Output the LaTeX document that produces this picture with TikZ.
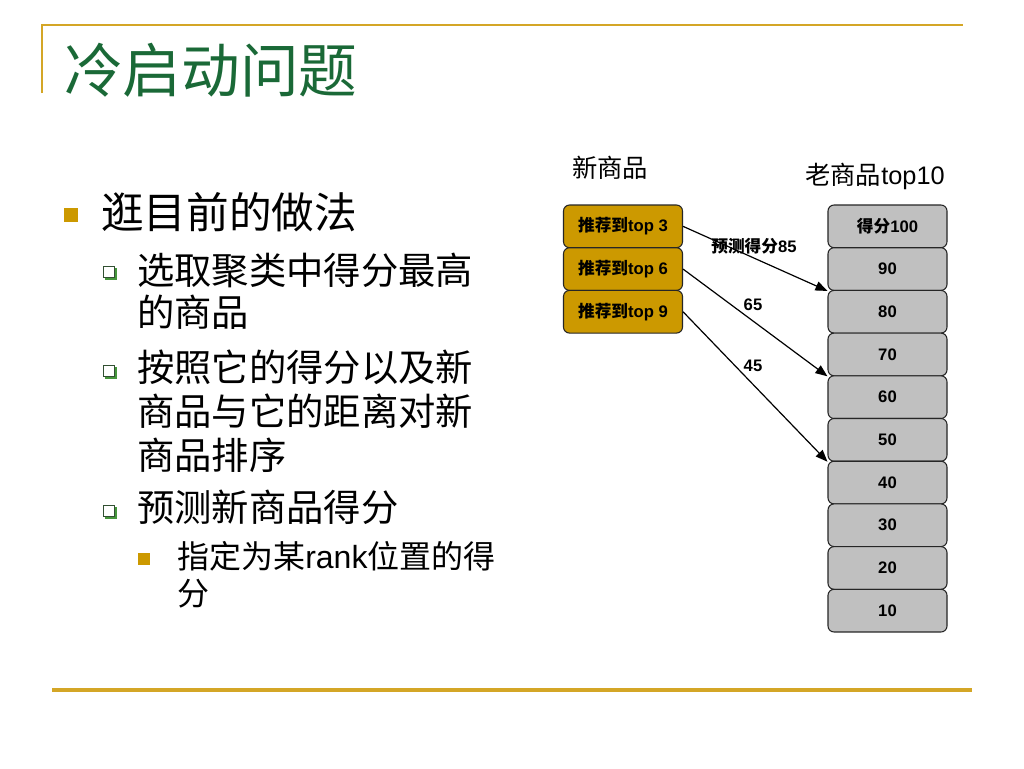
\documentclass[tikz,border=0pt]{standalone}
\usepackage{fontspec}
\setmainfont{Noto Sans CJK SC}
\newfontfamily\arial{Liberation Sans}
\usetikzlibrary{arrows.meta}
\newcommand\ltn[1]{{\arial #1}}
\definecolor{titlegreen}{RGB}{26,105,55}
\definecolor{rulegold}{RGB}{212,166,38}
\definecolor{bulletgold}{RGB}{204,153,0}
\definecolor{boxgold}{RGB}{204,153,0}
\definecolor{boxgray}{RGB}{192,192,192}
\definecolor{shadowgreen}{RGB}{70,150,60}
\definecolor{edgegreen}{RGB}{50,80,50}
\tikzset{
  oldbox/.style={draw=black!85, fill=boxgray, rounded corners=4.5pt, line width=0.8pt,
    minimum width=89.25pt, minimum height=32pt, inner sep=0pt, font=\fontsize{12.5}{15}\selectfont\bfseries},
  newbox/.style={oldbox, fill=boxgold},
  lvlone/.style={anchor=base west, inner sep=0pt, font=\fontsize{32}{38}\selectfont},
  lvltwo/.style={anchor=base west, inner sep=0pt, font=\fontsize{28}{34}\selectfont},
  lvlthree/.style={anchor=base west, inner sep=0pt, font=\fontsize{24}{29}\selectfont},
  arr/.style={-{Triangle[length=9pt,width=7pt]}, line width=0.9pt},
  lbl/.style={inner sep=0pt, font=\fontsize{12.5}{15}\selectfont\bfseries},
  head/.style={font=\fontsize{19}{23}\selectfont}
}
\begin{document}
\begin{tikzpicture}[x=0.75pt, y=-0.75pt]
  \useasboundingbox[fill=white] (0,0) rectangle (1024,768);
  % frame lines
  \draw[rulegold, line width=1.5pt] (42,93) -- (42,25) -- (963,25);
  \draw[rulegold, line width=2.4pt] (52,690) -- (972,690);
  \node[anchor=base west, inner sep=0pt, text=titlegreen, font=\fontsize{44}{52}\selectfont] (title) at (64,92) {冷启动问题};

  % bullets
  \fill[bulletgold] (64,208) rectangle (78,222);
  \node[lvlone] (l1) at (101,228) {逛目前的做法};
  \foreach \y in {272,371,511} {
    \fill[shadowgreen] (105,\y-4) rectangle (117,\y+8);
    \filldraw[fill=white, draw=edgegreen, line width=0.6pt] (103,\y-6) rectangle (114,\y+5);
  }
  \node[lvltwo] (l2a) at (137,284) {选取聚类中得分最高};
  \node[lvltwo] (l2b) at (137,326) {的商品};
  \node[lvltwo] (l2c) at (137,381) {按照它的得分以及新};
  \node[lvltwo] (l2d) at (137,425) {商品与它的距离对新};
  \node[lvltwo] (l2e) at (137,469) {商品排序};
  \node[lvltwo] (l2f) at (137,521) {预测新商品得分};
  \fill[bulletgold] (138,553) rectangle (150,565);
  \node[lvlthree] (l3a) at (177,568) {指定为某\ltn{rank}位置的得};
  \node[lvlthree] (l3b) at (177,605) {分};

  % diagram
  \node[head] (newhead) at (610,168) {新商品};
  \node[head] (oldhead) at (875,176) {老商品\ltn{top10}};
  \foreach \t/\v [count=\i] in {得分/100, /90, /80, /70, /60, /50, /40, /30, /20, /10}
    \node[oldbox] (old\i) at (887.5,{226.35+42.7*(\i-1)}) {\t\ltn{\v}};
  \foreach \v [count=\i] in {3,6,9}
    \node[newbox] (new\i) at (623,{226.35+42.7*(\i-1)}) {推荐到\ltn{top \v}};

  \draw[arr] (new1.east) -- (old2.south west);
  \draw[arr] (new2.east) -- (old4.south west);
  \draw[arr] (new3.east) -- (old6.south west);
  \node[lbl] (p85) at (754,246) {预测得分\ltn{85}};
  \node[lbl] (p65) at (753,305) {\ltn{65}};
  \node[lbl] (p45) at (753,366) {\ltn{45}};
\end{tikzpicture}
\end{document}
